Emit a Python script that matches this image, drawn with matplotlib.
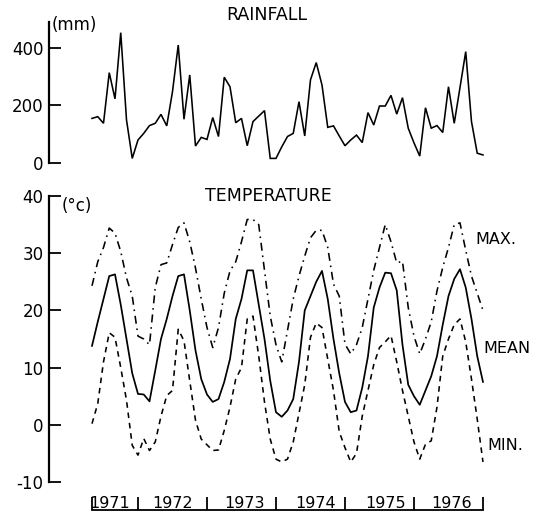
import matplotlib
matplotlib.use("Agg")
import matplotlib.pyplot as plt
import numpy as np

# ---- data (monthly values, starting mid-1971) ----
rain_mm = [155, 161, 138, 314, 223, 453, 150, 16, 80, 103,
           130, 138, 169, 129, 248, 410, 152, 306, 59, 89,
           82, 158, 92, 298, 265, 140, 155, 60, 144, 163,
           182, 16, 16, 56, 92, 103, 213, 94, 289, 349,
           271, 124, 129, 94, 60, 80, 97, 71, 175, 132,
           198, 198, 235, 170, 227, 121, 70, 24, 192, 121,
           130, 106, 265, 138, 262, 387, 144, 34, 28]

t_max = [24.3, 28.5, 31.0, 34.4, 33.5, 30.3, 25.7, 22.5, 15.5, 15.0,
         14.0, 24.0, 28.0, 28.3, 31.5, 34.5, 35.3, 32.0, 27.4, 22.0,
         17.0, 13.5, 17.0, 23.0, 26.9, 28.5, 32.0, 35.9, 35.9, 35.0,
         27.0, 19.0, 14.0, 11.0, 16.5, 22.0, 26.0, 29.5, 32.7, 34.0,
         34.0, 31.0, 24.6, 22.5, 14.1, 12.4, 14.0, 17.0, 22.0, 27.0,
         31.0, 35.0, 32.0, 28.3, 28.6, 20.5, 15.5, 12.4, 15.0, 18.0,
         23.4, 27.5, 31.0, 35.0, 35.3, 30.5, 26.0, 23.0, 20.0]

t_mean = [13.8, 18.0, 22.0, 26.0, 26.3, 21.0, 15.0, 9.0, 5.4, 5.3,
          4.1, 9.5, 15.0, 18.5, 22.5, 26.0, 26.3, 20.0, 13.0, 8.0,
          5.3, 4.0, 4.5, 7.5, 11.5, 18.5, 22.0, 27.0, 27.0, 21.0,
          15.0, 7.7, 2.2, 1.4, 2.5, 4.5, 11.0, 20.0, 22.5, 25.0,
          26.9, 22.0, 15.0, 9.0, 4.0, 2.2, 2.5, 6.5, 12.0, 20.5,
          24.0, 26.6, 26.5, 23.5, 14.0, 7.0, 5.0, 3.5, 6.0, 8.5,
          12.0, 17.5, 22.5, 25.5, 27.2, 24.0, 18.5, 12.0, 7.5]

t_min = [0.2, 3.7, 11.0, 16.1, 15.3, 10.0, 4.3, -3.6, -5.3, -2.4,
         -4.5, -3.0, 1.5, 5.1, 6.0, 16.7, 14.7, 7.7, 0.8, -2.5,
         -3.5, -4.5, -4.4, -1.0, 3.1, 8.0, 10.0, 18.5, 19.0, 12.0,
         4.0, -2.5, -6.0, -6.5, -6.0, -3.0, 2.0, 7.0, 15.3, 17.8,
         17.0, 11.5, 6.0, -1.2, -4.0, -6.5, -5.0, 1.5, 6.0, 10.5,
         13.5, 14.5, 15.6, 11.0, 6.0, 1.5, -3.0, -6.0, -3.4, -2.8,
         3.1, 12.0, 15.0, 17.5, 18.5, 14.5, 8.0, 1.0, -6.5]

years = ["1971", "1972", "1973", "1974", "1975", "1976"]
year_bounds = [0, 8, 20, 32, 44, 56, 68]   # month index of year boundaries

plt.rcParams['font.family'] = ['DejaVu Sans']
plt.rcParams['axes.unicode_minus'] = False

W, H = 533, 514
fig = plt.figure(figsize=(W / 100, H / 100), dpi=100)


def px(x0, y0, x1, y1):
    return [x0 / W, 1 - y1 / H, (x1 - x0) / W, (y1 - y0) / H]


months = np.arange(len(rain_mm))
XL = (-7.478, 70.96)
LW = 1.15

# ---------------- rainfall ----------------
ax_r = fig.add_axes(px(49, 22, 500, 163))
ax_r.plot(months, rain_mm, color='black', lw=LW, solid_joinstyle='miter')
ax_r.set_xlim(*XL)
ax_r.set_ylim(0, 490)
ax_r.set_yticks([0, 200, 400])
for s in ['top', 'right', 'bottom']:
    ax_r.spines[s].set_visible(False)
ax_r.spines['left'].set_linewidth(1.6)
ax_r.tick_params(axis='y', direction='in', length=8.5, width=1.3,
                 labelsize=12, pad=4)
ax_r.set_xticks([])
ax_r.patch.set_alpha(0)

# ---------------- temperature ----------------
ax_t = fig.add_axes(px(49, 196, 500, 482))
ax_t.plot(months, t_max, color='black', lw=LW, linestyle=(0, (5, 3, 1, 3)))
ax_t.plot(months, t_mean, color='black', lw=LW + 0.1)
ax_t.plot(months, t_min, color='black', lw=LW, linestyle=(0, (3.5, 3)))
ax_t.set_xlim(*XL)
ax_t.set_ylim(-10, 40)
ax_t.set_yticks([-10, 0, 10, 20, 30, 40])
for s in ['top', 'right']:
    ax_t.spines[s].set_visible(False)
ax_t.spines['left'].set_linewidth(1.6)
ax_t.tick_params(axis='y', direction='in', length=8.5, width=1.3,
                 labelsize=12, pad=4)
ax_t.spines['bottom'].set_position(('outward', 20))
ax_t.spines['bottom'].set_bounds(year_bounds[0], year_bounds[-1])
ax_t.spines['bottom'].set_linewidth(1.3)
ax_t.set_xticks(year_bounds)
ax_t.set_xticklabels([])
ax_t.tick_params(axis='x', direction='in', length=9.5, width=1.3)
ax_t.patch.set_alpha(0)

# year labels sitting above the bottom line
label_pos = [3.1, 14.0, 26.6, 38.8, 51.0, 62.6]
for yr, xp in zip(years, label_pos):
    ax_t.annotate(yr, xy=(xp, 0), xycoords=('data', 'axes fraction'),
                  xytext=(0, -21), textcoords='offset pixels',
                  ha='center', va='center', fontsize=11.5)

# series labels
ax_t.text(66.6, 32.4, "MAX.", ha='left', va='center', fontsize=11.5, clip_on=False)
ax_t.text(68.0, 13.3, "MEAN", ha='left', va='center', fontsize=11.5, clip_on=False)
ax_t.text(68.7, -3.6, "MIN.", ha='left', va='center', fontsize=11.5, clip_on=False)

# titles and units
fig.text(267 / W, 1 - 15 / H, "RAINFALL", ha='center', va='center', fontsize=12.5)
fig.text(268 / W, 1 - 196 / H, "TEMPERATURE", ha='center', va='center', fontsize=12.5)
fig.text(52 / W, 1 - 25 / H, "(mm)", ha='left', va='center', fontsize=12)
fig.text(62 / W, 1 - 206 / H, "(°c)", ha='left', va='center', fontsize=12)

fig.savefig("out.png", dpi=100)
